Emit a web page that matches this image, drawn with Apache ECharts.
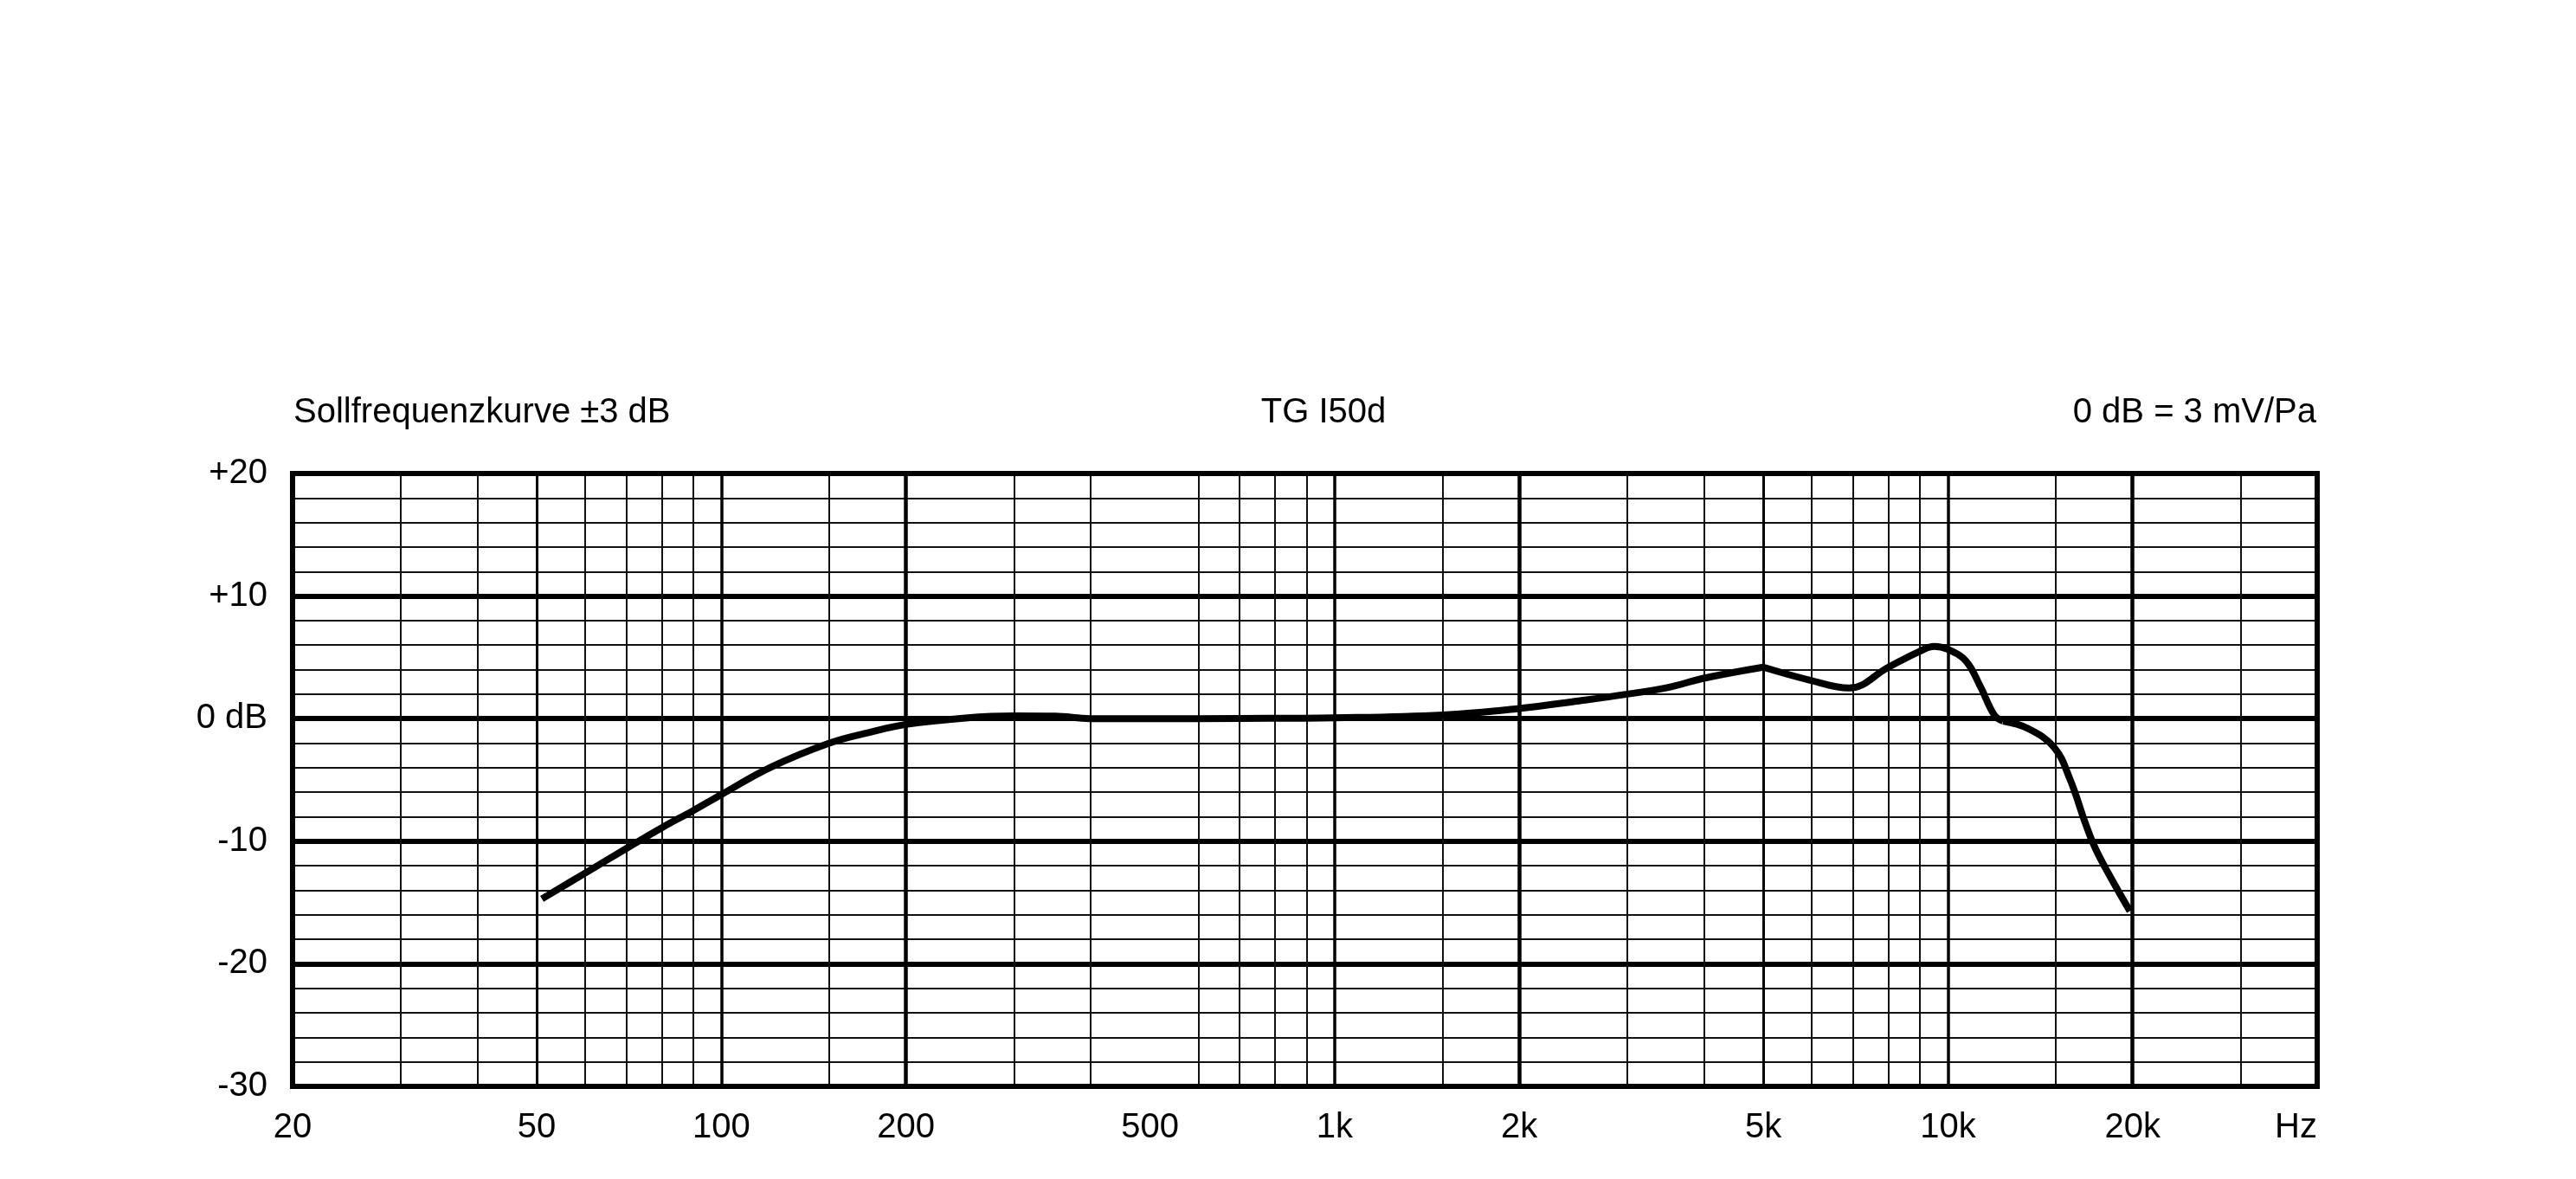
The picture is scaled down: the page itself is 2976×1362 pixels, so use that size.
<!DOCTYPE html>
<html>
<head>
<meta charset="utf-8">
<script src="https://cdn.jsdelivr.net/npm/echarts@6/dist/echarts.min.js"></script>
<style>
html,body{margin:0;padding:0;background:#fff;}
#chart{width:2976px;height:1362px;}
</style>
</head>
<body>
<div id="chart"></div>
<script>
// Frequency response (Hz, dB)
const freqs = [51, 60, 70, 80, 90, 100, 120, 150, 175, 200, 250, 300, 350, 400, 500, 700, 1000, 1500, 2000, 2500, 3000, 3500, 4000, 5000, 6000, 6900, 8000, 9000, 9500, 10000, 10700, 11300, 11900, 12300, 13500, 14900, 15800, 16800, 17400, 18300, 19800];
const levels = [-14.7, -12.6, -10.6, -8.9, -7.5, -6.2, -4.0, -2.0, -1.1, -0.47, 0.05, 0.22, 0.2, 0.0, 0.0, 0.02, 0.07, 0.3, 0.83, 1.45, 2.0, 2.55, 3.3, 4.2, 3.1, 2.5, 4.2, 5.5, 5.9, 5.65, 4.7, 2.6, 0.3, -0.2, -0.8, -2.35, -4.9, -8.7, -10.6, -12.7, -15.7];
// Frequencies where the curve has a visible corner
const cornerFreqs = [5000, 12300];

// X axis labels
const xTickValues = [20, 50, 100, 200, 500, 1000, 2000, 5000, 10000, 20000, 40000];
const xTickLabels = ['20', '50', '100', '200', '500', '1k', '2k', '5k', '10k', '20k', 'Hz'];

// Vertical grid lines by weight
const gridHeavy = [200, 2000, 20000];
const gridMedium = [100, 1000, 10000];
const gridLight = [50, 5000];
const gridThin = [30, 40, 60, 70, 80, 90, 150, 300, 400, 600, 700, 800, 900, 1500, 3000, 4000, 6000, 7000, 8000, 9000, 15000, 30000];

// Y axis labels
const yTickValues = [-30, -20, -10, 0, 10, 20];
const yTickLabels = ['-30', '-20', '-10', '0 dB', '+10', '+20'];

const titleLeft = 'Sollfrequenzkurve ±3 dB';
const titleCenter = 'TG I50d';
const titleRight = '0 dB = 3 mV/Pa';

const FONT = '"Liberation Sans", Arial, sans-serif';

const chart = echarts.init(document.getElementById('chart'), null, {renderer: 'canvas'});

function vLines(vals, width, color) {
  return vals.map(v => ({xAxis: v, lineStyle: {width: width, color: color, type: 'solid'}}));
}

const markData = []
  .concat(vLines(gridThin, 2, '#111'))
  .concat(vLines(gridLight, 3, '#000'))
  .concat(vLines(gridMedium, 3.5, '#000'))
  .concat(vLines(gridHeavy, 4.5, '#000'));

// split the curve into segments at the corner frequencies
const points = freqs.map((f, i) => [f, levels[i]]);
const cuts = [0].concat(cornerFreqs.map(c => freqs.indexOf(c))).concat([freqs.length - 1]);
const curveSeries = [];
for (let s = 0; s < cuts.length - 1; s++) {
  curveSeries.push({
    type: 'line',
    data: points.slice(cuts[s], cuts[s + 1] + 1),
    showSymbol: false,
    symbol: 'none',
    smooth: 0.4,
    z: 5,
    lineStyle: {color: '#000', width: 8, cap: 'butt', join: 'round'}
  });
}

const option = {
  backgroundColor: '#ffffff',
  animation: false,
  grid: {
    left: 338, right: 299, top: 547, bottom: 107,
    show: true, borderWidth: 6, borderColor: '#000', backgroundColor: 'transparent', z: 10
  },
  graphic: [
    {type: 'text', x: 339, y: 477, style: {text: titleLeft, font: '40px ' + FONT, fill: '#000', textAlign: 'left', textVerticalAlign: 'middle'}},
    {type: 'text', x: 1529, y: 477, style: {text: titleCenter, font: '40px ' + FONT, fill: '#000', textAlign: 'center', textVerticalAlign: 'middle'}},
    {type: 'text', x: 2676, y: 477, style: {text: titleRight, font: '40px ' + FONT, fill: '#000', textAlign: 'right', textVerticalAlign: 'middle'}}
  ],
  xAxis: {
    type: 'log', logBase: 10, min: 20, max: 40000,
    axisLine: {show: false},
    axisTick: {show: false},
    splitLine: {show: false},
    minorSplitLine: {show: false},
    axisLabel: {
      show: true,
      customValues: xTickValues,
      margin: 28,
      fontSize: 40,
      fontFamily: FONT,
      color: '#000',
      alignMinLabel: 'center',
      alignMaxLabel: 'right',
      hideOverlap: false,
      formatter: function (v) {
        let best = 0, bd = Infinity;
        xTickValues.forEach((t, i) => { const d = Math.abs(Math.log10(t) - Math.log10(v)); if (d < bd) { bd = d; best = i; } });
        return xTickLabels[best];
      }
    }
  },
  yAxis: {
    type: 'value', min: -30, max: 20, interval: 10,
    axisLine: {show: false},
    axisTick: {show: false},
    splitLine: {show: true, lineStyle: {color: '#000', width: 6}},
    minorTick: {show: false, splitNumber: 5},
    minorSplitLine: {show: true, lineStyle: {color: '#111', width: 2}},
    axisLabel: {
      margin: 29,
      fontSize: 40,
      fontFamily: FONT,
      color: '#000',
      formatter: function (v) {
        const i = yTickValues.indexOf(Math.round(v));
        return i >= 0 ? yTickLabels[i] : '';
      }
    }
  },
  series: [
    {
      type: 'line',
      data: [],
      silent: true,
      z: 3,
      markLine: {
        silent: true,
        symbol: ['none', 'none'],
        label: {show: false},
        animation: false,
        data: markData
      }
    }
  ].concat(curveSeries)
};

chart.setOption(option);
</script>
</body>
</html>
